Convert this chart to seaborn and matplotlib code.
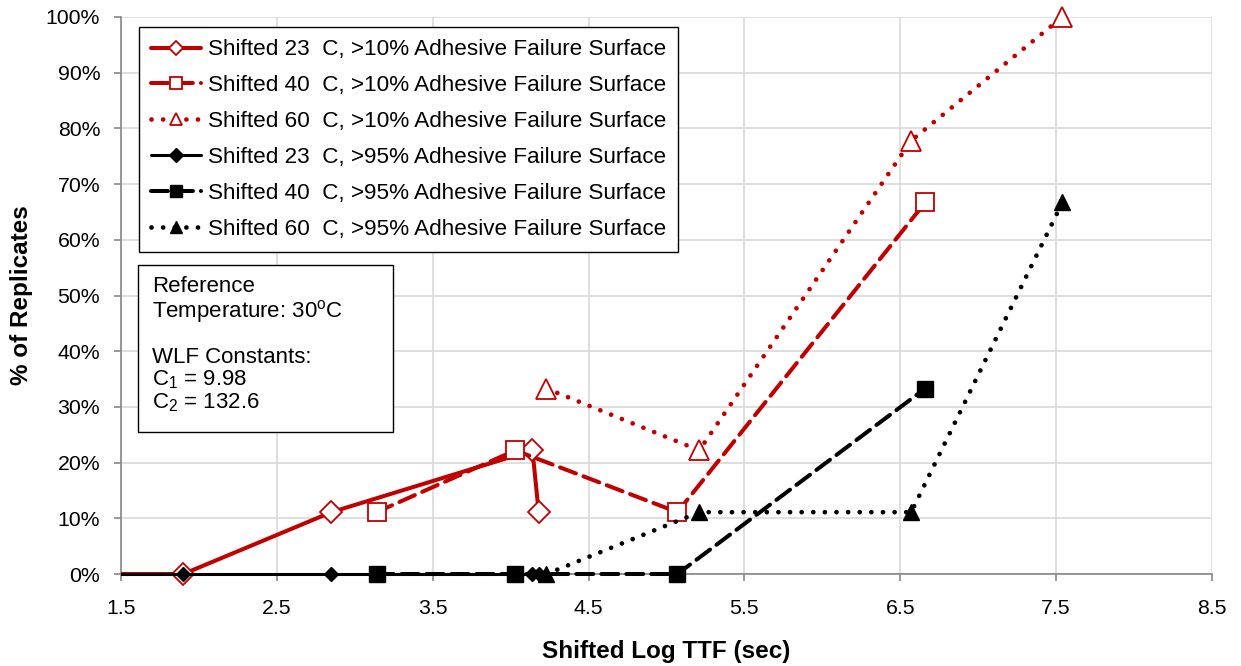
import matplotlib
matplotlib.use("Agg")
import matplotlib.pyplot as plt
import matplotlib.transforms as mtransforms
from matplotlib.patches import Rectangle
import seaborn as sns
import pandas as pd

# ---- data ----
x_23 = [1.0, 1.90, 2.85, 4.14, 4.18]
y_23_10 = [0.0, 0.0, 11.1, 22.2, 11.1]
y_23_95 = [0.0, 0.0, 0.0, 0.0, 0.0]

x_40 = [3.14, 4.03, 5.07, 6.66]
y_40_10 = [11.1, 22.2, 11.1, 66.7]
y_40_95 = [0.0, 0.0, 0.0, 33.3]

x_60 = [4.23, 5.21, 6.57, 7.54]
y_60_10 = [33.3, 22.2, 77.8, 100.0]
y_60_95 = [0.0, 11.1, 11.1, 66.7]

labels = [
    "Shifted 23  C, >10% Adhesive Failure Surface",
    "Shifted 40  C, >10% Adhesive Failure Surface",
    "Shifted 60  C, >10% Adhesive Failure Surface",
    "Shifted 23  C, >95% Adhesive Failure Surface",
    "Shifted 40  C, >95% Adhesive Failure Surface",
    "Shifted 60  C, >95% Adhesive Failure Surface",
]
x_ticks = [1.5, 2.5, 3.5, 4.5, 5.5, 6.5, 7.5, 8.5]
y_ticks = list(range(0, 101, 10))

sns.set_theme(style="white")
plt.rcParams["font.family"] = ["Liberation Sans", "DejaVu Sans"]
plt.rcParams["mathtext.fontset"] = "custom"
plt.rcParams["mathtext.rm"] = "Liberation Sans"
plt.rcParams["mathtext.it"] = "Liberation Sans"
plt.rcParams["text.color"] = "black"
plt.rcParams["axes.labelcolor"] = "black"

RED = "#C00000"
BLK = "#000000"

fig = plt.figure(figsize=(12.41, 6.66), dpi=100)
ax = fig.add_axes([121 / 1241, 1 - 574 / 666, (1212 - 121) / 1241, (574 - 17) / 666])

dash = (0, (4.2, 2.0))
dot = (0, (0.01, 2.45))

series = [
    (x_23, y_23_10, RED, "-", 2.9, "D", 11, "white", RED, 1.3),
    (x_40, y_40_10, RED, dash, 2.9, "s", 13.5, "white", RED, 1.3),
    (x_60, y_60_10, RED, dot, 3.4, "^", 14.5, "white", RED, 1.3),
    (x_23, y_23_95, BLK, "-", 2.2, "D", 7.5, BLK, BLK, 1.0),
    (x_40, y_40_95, BLK, dash, 2.9, "s", 11, BLK, BLK, 1.0),
    (x_60, y_60_95, BLK, dot, 3.4, "^", 12, BLK, BLK, 1.0),
]

clip_bb = mtransforms.TransformedBbox(mtransforms.Bbox([[0.0, -0.04], [1.0, 1.05]]),
                                      ax.transAxes)
lines = {}
for i in range(6):
    xs, ys, col, ls, lw, mk, ms, mfc, mec, mew = series[i]
    df = pd.DataFrame({"x": xs, "y": ys})
    n_before = len(ax.lines)
    sns.lineplot(data=df, x="x", y="y", ax=ax, estimator=None, sort=False,
                 color=col, linestyle=ls, linewidth=lw, marker=mk, markersize=ms,
                 markerfacecolor=mfc, markeredgecolor=mec, markeredgewidth=mew,
                 dash_capstyle="round", label=labels[i], zorder=3 + (i >= 3))
    ln = ax.lines[n_before]
    ln.set_clip_box(clip_bb)
    lines[i] = ln

ax.set_xlim(1.5, 8.5)
ax.set_ylim(0, 100)
ax.set_xticks(x_ticks)
ax.set_xticklabels([f"{v:.1f}" for v in x_ticks])
ax.set_yticks(y_ticks)
ax.set_yticklabels([f"{v}%" for v in y_ticks])
ax.grid(True, color="#D9D9D9", linewidth=1.2)
ax.set_axisbelow(True)
for s in ["top", "right"]:
    ax.spines[s].set_visible(False)
for s in ["left", "bottom"]:
    ax.spines[s].set_color("#868686")
    ax.spines[s].set_linewidth(1.2)
ax.tick_params(axis="both", which="both", direction="out", length=5, width=1.2,
               color="#868686", labelsize=15.3, labelcolor="black",
               bottom=True, left=True)
ax.tick_params(axis="y", pad=10)
ax.tick_params(axis="x", pad=13)

ax.set_xlabel("Shifted Log TTF (sec)", fontsize=17.5, fontweight="bold", labelpad=16,
              color="black")
ax.set_ylabel("% of Replicates", fontsize=17.5, fontweight="bold", labelpad=9,
              color="black")

handles = [lines[i] for i in range(6)]
leg = ax.legend(handles, labels, loc="upper left", bbox_to_anchor=(0.0165, 0.982),
                fontsize=16.2, frameon=True, fancybox=False, edgecolor="black",
                framealpha=1, handlelength=2.2, handletextpad=0.3,
                labelspacing=0.66, borderpad=0.55, borderaxespad=0, labelcolor="black")
leg.get_frame().set_linewidth(1.0)
leg.set_zorder(7)
leg_ms = [7, 8, 9, 7, 8, 9]
for h, m in zip(leg.legend_handles, leg_ms):
    h.set_markersize(m)

# annotation box
px_x = lambda p: (p - 121) / 1091
px_y = lambda p: (574 - p) / 557
ax.add_patch(Rectangle((px_x(138), px_y(432)), px_x(393) - px_x(138), px_y(265) - px_y(432),
                       transform=ax.transAxes, facecolor="white", edgecolor="black",
                       linewidth=1.0, zorder=6, clip_on=False))
txt = ("Reference\nTemperature: 30$^\\mathrm{o}$C\n\nWLF Constants:\n"
       "C$_\\mathrm{1}$ = 9.98\nC$_\\mathrm{2}$ = 132.6")
ax.text(px_x(152), px_y(276), txt, transform=ax.transAxes, fontsize=16, va="top",
        ha="left", linespacing=1.03, zorder=7, color="black")

fig.savefig("out.png", dpi=100)
